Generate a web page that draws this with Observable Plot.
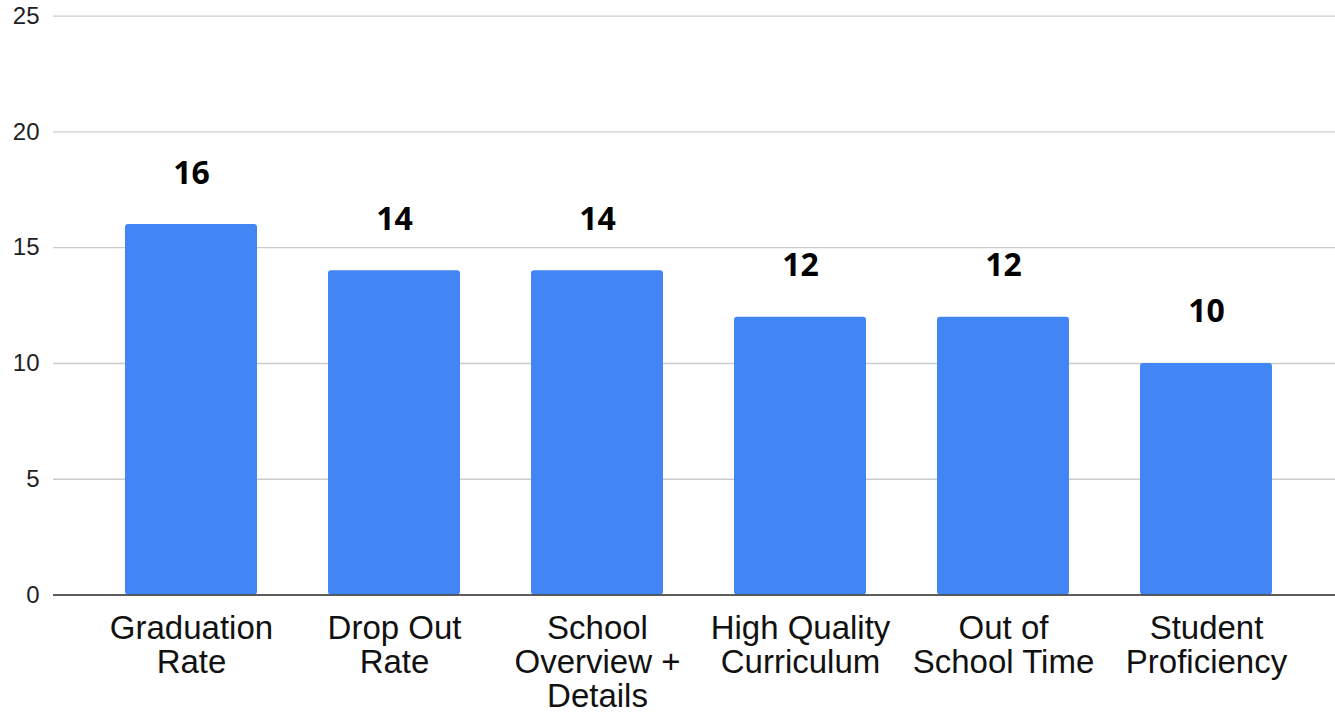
<!DOCTYPE html>
<html><head><meta charset="utf-8">
<script src="https://cdn.jsdelivr.net/npm/d3@7"></script>
<script src="https://cdn.jsdelivr.net/npm/@observablehq/plot@0.6"></script>
<style>html,body{margin:0;padding:0;background:#fff;} svg{display:block}</style>
</head><body><div id="chart"></div>
<script>
const categories = ["Graduation Rate","Drop Out Rate","School Overview + Details","High Quality Curriculum","Out of School Time","Student Proficiency"];
const values = [16,14,14,12,12,10];
const tickLabels = ["Graduation\nRate","Drop Out\nRate","School\nOverview +\nDetails","High Quality\nCurriculum","Out of\nSchool Time","Student\nProficiency"];
const yTicks = [0,5,10,15,20,25];
const data = categories.map((c,i)=>({category:c, value:values[i], label:tickLabels[i]}));
const chart = Plot.plot({
  width:1335, height:712,
  marginLeft:53, marginRight:0, marginTop:16, marginBottom:118,
  style:{fontFamily:"'Liberation Sans', Arial, sans-serif", background:"#fff"},
  x:{domain:categories, range:[124,1272.3], paddingInner:0.35, paddingOuter:0, axis:null},
  y:{domain:[0,25], range:[594.5,15.7], axis:null},
  marks:[
    Plot.gridY(yTicks, {stroke:"#cccccc", strokeOpacity:1, strokeWidth:1.3}),
    Plot.axisY(yTicks, {tickSize:0, tickPadding:14, fontSize:24, fill:"#222", label:null}),
    Plot.barY(data, {x:"category", y:"value", fill:"#4285f4", rx:3}),
    Plot.ruleY([0], {stroke:"#333", strokeWidth:1.5}),
    Plot.text(data, {x:"category", y:"value", text:d=>String(d.value), lineAnchor:"bottom", dy:-41, fontSize:32, fontWeight:"bold", fontFamily:"Open Sans", fill:"#000"}),
    Plot.text(data, {x:"category", y:0, text:"label", lineAnchor:"top", dy:20, fontSize:33, lineHeight:1.03, fill:"#111"})
  ]
});
document.getElementById("chart").appendChild(chart);
</script>
</body></html>
